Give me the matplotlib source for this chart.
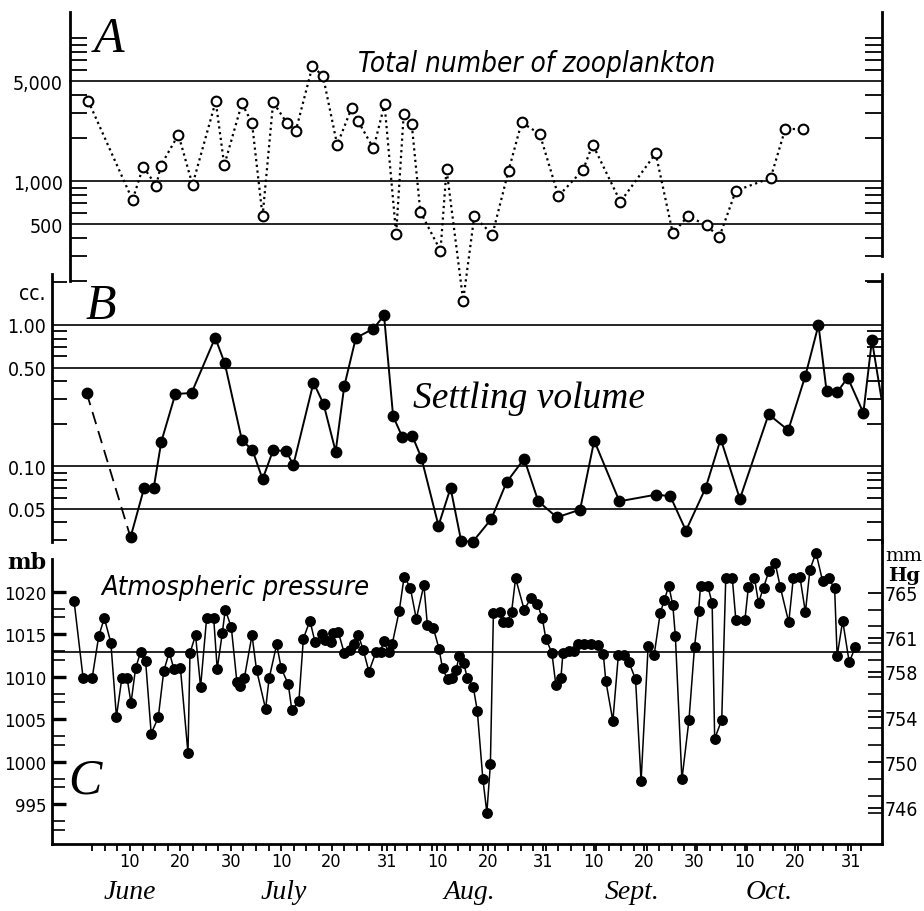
import numpy as np
import matplotlib
matplotlib.use('Agg')
import matplotlib.pyplot as plt
from matplotlib import font_manager as fm
from matplotlib.ticker import FixedLocator, NullFormatter

# ---------------- data (day 0 = 1 June) ----------------
zoo_day = [0.7, 9.5, 11.6, 14.2, 15.1, 18.6, 21.4, 26.0, 27.7, 31.2, 33.2, 35.3, 37.4, 40.1, 41.9,
           45.2, 47.3, 50.1, 53.0, 54.3, 57.3, 59.5, 61.8, 63.3, 64.9, 66.6, 70.6, 71.8, 75.1, 77.3,
           80.9, 84.1, 86.7, 90.3, 94.0, 98.9, 100.8, 106.3, 113.3, 116.7, 119.7, 123.4, 125.9, 129.2,
           136.1, 139.0, 142.5]
zoo_count = [3640, 736, 1260, 927, 1280, 2110, 942, 3610, 1290, 3490, 2550, 566, 3560, 2550, 2250,
             6370, 5400, 1790, 3260, 2610, 1690, 3440, 425, 2930, 2490, 610, 326, 1210, 146, 566,
             422, 1180, 2570, 2130, 785, 1200, 1800, 716, 1560, 430, 569, 490, 404, 855,
             1050, 2310, 2310]

settle_day = [0.4, 9.1, 11.8, 13.7, 15.2, 18.0, 21.2, 25.9, 27.8, 31.2, 33.3, 35.3, 37.4, 40.0, 41.4,
              45.4, 47.4, 49.8, 51.5, 53.8, 57.3, 59.4, 61.2, 63.0, 65.0, 66.8, 70.2, 72.6, 74.7, 77.0,
              80.7, 83.7, 87.2, 90.0, 93.7, 98.3, 101.1, 106.1, 113.4, 116.2, 119.3, 123.2, 126.2, 130.0,
              135.7, 139.6, 143.0, 145.6, 147.2, 149.3, 151.4, 154.5, 156.2, 158.1]
settle_cc = [0.330, 0.0314, 0.0702, 0.0702, 0.149, 0.325, 0.330, 0.813, 0.536, 0.153, 0.130, 0.081,
             0.130, 0.128, 0.102, 0.391, 0.276, 0.127, 0.368, 0.809, 0.942, 1.17, 0.226, 0.162, 0.164,
             0.115, 0.038, 0.0702, 0.0296, 0.0292, 0.0424, 0.077, 0.113, 0.0565, 0.0435, 0.0493, 0.152,
             0.0565, 0.063, 0.0614, 0.035, 0.0702, 0.156, 0.0587, 0.233, 0.180, 0.438, 1.0, 0.341,
             0.334, 0.424, 0.239, 0.779, 0.30]

press_day = [-2.1, -0.3, 1.5, 2.8, 3.9, 5.2, 6.3, 7.4, 8.4, 9.2,
             10.1, 11.1, 12.1, 13.2, 14.6, 15.7, 16.8, 17.7, 19.0, 20.5,
             20.9, 22.0, 23.0, 24.2, 25.6, 26.3, 27.3, 27.9, 29.1, 30.2,
             30.8, 31.7, 33.2, 34.1, 35.9, 36.6, 38.1, 39.0, 40.4, 41.1,
             42.5, 43.4, 44.7, 45.7, 47.1, 47.7, 48.9, 49.2, 50.3, 51.5,
             52.6, 53.4, 54.3, 55.3, 56.4, 57.8, 58.7, 59.3, 60.3, 61.0,
             62.4, 63.4, 64.6, 65.8, 67.3, 68.0, 69.2, 70.3, 71.0, 72.0,
             72.8, 73.7, 74.3, 75.2, 75.9, 77.1, 77.9, 79.0, 79.8, 80.5,
             81.1, 82.4, 83.1, 83.9, 84.7, 85.5, 87.2, 88.6, 89.8, 90.8,
             91.5, 92.7, 93.5, 94.5, 94.9, 96.0, 97.0, 97.8, 99.0, 100.5,
             101.9, 102.9, 103.4, 104.8, 105.9, 107.0, 108.0, 109.3, 110.4, 111.8,
             113.0, 114.2, 115.0, 115.9, 116.7, 117.2, 118.5, 119.9, 121.0, 121.8,
             122.2, 123.6, 124.5, 125.0, 126.4, 127.2, 128.5, 129.2, 131.0, 131.7,
             132.9, 133.7, 134.7, 135.8, 137.0, 138.0, 139.7, 140.6, 141.9, 143.0,
             143.9, 145.1, 146.4, 147.6, 148.8, 149.3, 150.4, 151.7, 152.9]
press_mb = [1018.9, 1009.8, 1009.9, 1014.8, 1016.9, 1014.0, 1005.3, 1009.9, 1009.9, 1006.9,
            1011.0, 1012.9, 1011.8, 1003.3, 1005.2, 1010.7, 1012.9, 1010.9, 1011.0, 1001.0,
            1012.8, 1014.9, 1008.8, 1016.9, 1016.9, 1010.9, 1015.1, 1017.9, 1015.8, 1009.4,
            1008.9, 1009.9, 1014.9, 1010.8, 1006.2, 1009.8, 1013.8, 1011.0, 1009.1, 1006.1,
            1007.1, 1014.5, 1016.6, 1014.1, 1015.0, 1014.3, 1014.1, 1015.2, 1015.3, 1012.8,
            1013.1, 1013.9, 1014.9, 1013.1, 1010.6, 1012.9, 1012.9, 1014.2, 1012.9, 1013.8,
            1017.7, 1021.8, 1020.5, 1016.8, 1020.8, 1016.1, 1015.7, 1013.3, 1011.0, 1009.7,
            1009.9, 1010.8, 1012.4, 1011.6, 1009.9, 1008.8, 1006.0, 998.0, 994.0, 999.7,
            1017.5, 1017.6, 1016.5, 1016.5, 1017.6, 1021.6, 1017.9, 1019.3, 1018.6, 1016.9,
            1014.5, 1012.8, 1009.0, 1009.9, 1012.8, 1013.0, 1013.0, 1013.8, 1013.8, 1013.8,
            1013.7, 1012.7, 1009.5, 1004.8, 1012.6, 1012.6, 1011.7, 1009.7, 997.7, 1013.6,
            1012.6, 1017.5, 1019.0, 1020.7, 1018.4, 1014.8, 997.9, 1004.9, 1013.5, 1017.7,
            1020.7, 1020.7, 1018.7, 1002.7, 1004.9, 1021.6, 1021.6, 1016.7, 1016.7, 1020.6,
            1021.6, 1018.7, 1020.5, 1022.5, 1023.4, 1020.6, 1016.4, 1021.6, 1021.8, 1017.6,
            1022.6, 1024.6, 1021.3, 1021.6, 1020.4, 1012.4, 1016.6, 1011.7, 1013.5]
press_mean_mb = 1012.9

date_tick_days = [9, 19, 29, 39, 49, 60, 70, 80, 91, 101, 111, 121, 131, 141, 152]
date_tick_labels = ['10', '20', '30', '10', '20', '31', '10', '20', '31', '10', '20', '30', '10', '20', '31']
month_names = ['June', 'July', 'Aug.', 'Sept.', 'Oct.']
month_label_days = [9, 39.5, 76.3, 108.6, 135.8]

zoo_ref_levels = [500, 1000, 5000]
zoo_tick_labels = ['500', '1,000', '5,000']
zoo_minor = [200, 300, 400, 600, 700, 800, 900, 2000, 3000, 4000, 6000, 7000, 8000, 9000, 10000]
settle_ref_levels = [0.05, 0.1, 0.5, 1.0]
settle_tick_labels = ['0.05', '0.10', '0.50', '1.00']
settle_minor = [0.03, 0.04, 0.06, 0.07, 0.08, 0.09, 0.2, 0.3, 0.4, 0.6, 0.7, 0.8, 0.9, 2.0]
mb_ticks = [995, 1000, 1005, 1010, 1015, 1020]
mmhg_ticks = [746, 750, 754, 758, 761, 765]
MB_PER_MMHG = 1.33322

# ---------------- fonts ----------------
_fonts = fm.fontManager.ttflist


def _find(words_any, italic):
    for f in _fonts:
        fn = f.fname.lower()
        if not any(w in fn for w in words_any):
            continue
        is_it = f.style in ('italic', 'oblique')
        if is_it != italic or f.weight not in (400, 'normal', 'regular', 500):
            continue
        if 'light' in fn or 'bold' in fn or 'thin' in fn or 'black' in fn:
            continue
        return f.fname
    return None


_nar = _find(['narrow', 'condensed'], False)
_nar_it = _find(['narrow', 'condensed'], True)
if _nar:
    P_NAR = fm.FontProperties(fname=_nar)
    nscale = 1.0
else:
    P_NAR = fm.FontProperties(family='DejaVu Sans')
    nscale = 0.8
P_NAR_IT = fm.FontProperties(fname=_nar_it) if _nar_it else fm.FontProperties(family='DejaVu Sans', style='italic')
_names = {f.name for f in _fonts}
SCRIPT = 'Liberation Serif' if 'Liberation Serif' in _names else 'DejaVu Serif'


def nar(size, italic=False):
    p = (P_NAR_IT if italic else P_NAR).copy()
    p.set_size(size)
    return p


W, H = 924, 912
fig = plt.figure(figsize=(W / 100, H / 100), dpi=100)


def px_axes(left, top, right, bottom):
    return fig.add_axes([left / W, 1 - bottom / H, (right - left) / W, (bottom - top) / H])


def style_labels(labels, size):
    for t in labels:
        t.set_fontproperties(nar(size))


XLIM = (-6.48, 158.2)
LBL = 14.0 * nscale
SPW = 2.0

# ---------------- panel A ----------------
axA = px_axes(52, 13, 882, 282)
axA.patch.set_alpha(0)
axA.set_xlim(XLIM)
axA.set_yscale('log')
axA.set_ylim(200, 15200)
axA.xaxis.set_visible(False)
for s in ('top', 'bottom'):
    axA.spines[s].set_visible(False)
axA.spines['left'].set_position(('outward', -13.0))
axA.spines['left'].set_linewidth(SPW)
axA.spines['right'].set_linewidth(SPW)
axA.spines['right'].set_bounds(300, 15200)
axA.yaxis.set_major_locator(FixedLocator(zoo_ref_levels))
axA.set_yticklabels(zoo_tick_labels)
axA.yaxis.set_minor_locator(FixedLocator(zoo_minor))
axA.yaxis.set_minor_formatter(NullFormatter())
axA.tick_params(axis='y', which='major', length=0, pad=5, right=True)
axA.tick_params(axis='y', which='minor', direction='in', length=12, width=1.3, left=True, right=True)
style_labels(axA.get_yticklabels(), LBL)
for v in zoo_ref_levels:
    axA.axhline(v, xmin=18 / 830, xmax=1, color='k', lw=1.2, zorder=1)
axA.plot(zoo_day, zoo_count, color='k', lw=1.6, linestyle=(0, (1.0, 1.6)),
         marker='o', ms=7, mfc='white', mec='k', mew=1.5, clip_on=False, zorder=3)

# ---------------- panel B ----------------
axB = px_axes(52, 275, 882, 543)
axB.patch.set_alpha(0)
axB.set_xlim(XLIM)
axB.set_yscale('log')
axB.set_ylim(0.0291, 2.296)
axB.xaxis.set_visible(False)
for s in ('top', 'bottom'):
    axB.spines[s].set_visible(False)
axB.spines['left'].set_linewidth(SPW)
axB.spines['right'].set_linewidth(SPW)
axB.yaxis.set_major_locator(FixedLocator(settle_ref_levels))
axB.set_yticklabels(settle_tick_labels)
axB.yaxis.set_minor_locator(FixedLocator(settle_minor))
axB.yaxis.set_minor_formatter(NullFormatter())
axB.tick_params(axis='y', which='major', length=0, pad=4)
axB.tick_params(axis='y', which='minor', direction='in', length=11, width=1.3, left=True, right=True)
style_labels(axB.get_yticklabels(), LBL)
for v in settle_ref_levels:
    axB.axhline(v, color='k', lw=1.2, zorder=1)
axB.plot(settle_day[:2], settle_cc[:2], color='k', lw=1.3, linestyle=(0, (7, 4)), zorder=2)
axB.plot(settle_day[1:], settle_cc[1:], color='k', lw=1.4, zorder=2, clip_on=False)
axB.plot(settle_day[:-1], settle_cc[:-1], 'o', color='k', ms=7.5, zorder=3, clip_on=False)

# ---------------- panel C ----------------
axC = px_axes(52, 541, 882, 845)
axC.patch.set_alpha(0)
axC.set_xlim(XLIM)
axC.set_ylim(990.3, 1026.1)
axC.spines['top'].set_visible(False)
for s in ('left', 'bottom', 'right'):
    axC.spines[s].set_linewidth(SPW)
axC.spines['left'].set_bounds(990.3, 1023.9)
axC.yaxis.set_major_locator(FixedLocator(mb_ticks))
axC.yaxis.set_minor_locator(FixedLocator([p + d for p in mb_ticks for d in (-3, -2) if p + d > 991]))
axC.yaxis.set_minor_formatter(NullFormatter())
axC.tick_params(axis='y', which='major', direction='in', length=10, width=2.4, pad=4)
axC.tick_params(axis='y', which='minor', direction='in', length=9, width=1.2)
style_labels(axC.get_yticklabels(), LBL * 0.95)
axC.axhline(press_mean_mb, color='k', lw=1.2, zorder=1)
axC.plot(press_day, press_mb, color='k', lw=1.1, marker='o', ms=6.8, zorder=3, clip_on=False)

# x axis (dates)
axC.xaxis.set_major_locator(FixedLocator(date_tick_days))
axC.set_xticklabels(date_tick_labels)
axC.xaxis.set_minor_locator(FixedLocator(np.arange(1.5, 156, 2.5)))
axC.tick_params(axis='x', which='major', direction='out', length=5, width=1.3, pad=1)
axC.tick_params(axis='x', which='minor', direction='out', length=5, width=1.3)
style_labels(axC.get_xticklabels(), 13.0 * nscale)
for d, name in zip(month_label_days, month_names):
    axC.text(d, -0.176, name, transform=axC.get_xaxis_transform(), ha='center', va='baseline',
             fontsize=20, family=SCRIPT, style='italic')

# right axis in mm Hg
secC = axC.secondary_yaxis('right', functions=(lambda p: p / MB_PER_MMHG, lambda m: m * MB_PER_MMHG))
secC.spines['right'].set_linewidth(SPW)
secC.yaxis.set_major_locator(FixedLocator(mmhg_ticks))
secC.yaxis.set_minor_locator(FixedLocator(np.arange(745.5, 766, 1.5)))
secC.yaxis.set_minor_formatter(NullFormatter())
secC.tick_params(axis='y', which='major', direction='in', length=10, width=1.3, pad=2)
secC.tick_params(axis='y', which='minor', direction='in', length=10, width=1.2)
style_labels(secC.get_yticklabels(), LBL)
axC.spines['right'].set_visible(False)

# ---------------- texts ----------------
def ftext(x, y, s, **kw):
    fig.text(x / W, 1 - y / H, s, **kw)

ftext(109, 40, 'A', fontsize=36, family=SCRIPT, style='italic', ha='center', va='center')
ftext(101, 307, 'B', fontsize=36, family=SCRIPT, style='italic', ha='center', va='center')
ftext(85, 781, 'C', fontsize=36, family=SCRIPT, style='italic', ha='center', va='center')
ftext(537, 72, 'Total number of zooplankton', fontproperties=nar(20 * nscale, True),
      ha='center', va='baseline')
ftext(413, 408, 'Settling volume', fontsize=27, family=SCRIPT, style='italic', ha='left', va='baseline')
ftext(235, 595, 'Atmospheric pressure', fontproperties=nar(19.5 * nscale, True),
      ha='center', va='baseline')
ftext(32, 294, 'cc.', fontproperties=nar(15 * nscale), ha='center', va='center')
ftext(27, 563, 'mb', fontsize=16, family='DejaVu Serif', weight='bold', ha='center', va='center')
ftext(904, 556, 'mm', fontsize=14, family='DejaVu Serif', ha='center', va='center')
ftext(904, 576, 'Hg', fontsize=14, family='DejaVu Serif', weight='bold', ha='center', va='center')

fig.savefig('out.png', dpi=100)
